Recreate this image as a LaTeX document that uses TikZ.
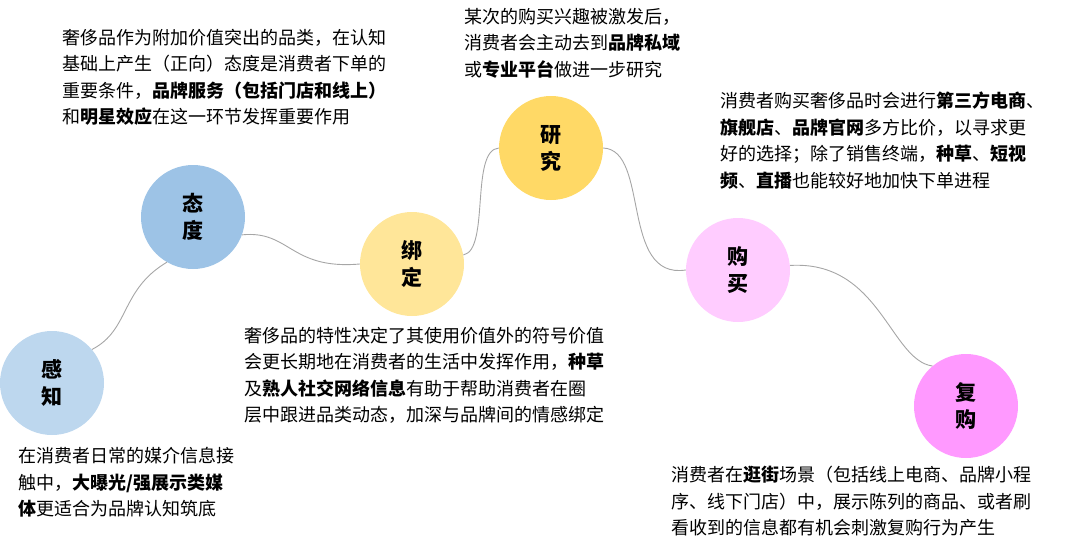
\documentclass[tikz,border=0pt]{standalone}
\usepackage{fontspec}
\setmainfont{Noto Sans CJK SC}
\usetikzlibrary{calc}
\definecolor{bleuclair}{HTML}{BDD7EE}
\definecolor{bleu}{HTML}{9DC3E6}
\definecolor{jauneclair}{HTML}{FFE699}
\definecolor{jaune}{HTML}{FFD966}
\definecolor{roseclair}{HTML}{FFCCFF}
\definecolor{rose}{HTML}{FF99FF}
\tikzstyle{etape}=[circle, minimum size=104pt, inner sep=0pt, align=center, font=\fontsize{21}{27}\selectfont\bfseries]
\tikzstyle{texte}=[anchor=north west, align=left, inner sep=0pt, font=\fontsize{18}{26.5}\selectfont]
\tikzstyle{lien}=[draw=gray!70, line width=0.9pt]

\begin{document}
\begin{tikzpicture}[x=1pt,y=-1pt]
\useasboundingbox (0,0) rectangle (1080,552);

%%%%%%%%%%%%%%%%%%%%%%%%
%les étapes
%%%%%%%%%%%%%%%%%%%%%%%%
\node[etape,fill=bleuclair] (ganzhi) at (52,383) {感\\知};
\node[etape,fill=bleu] (taidu) at (193,217) {态\\度};
\node[etape,fill=jauneclair] (bangding) at (412,264) {绑\\定};
\node[etape,fill=jaune] (yanjiu) at (551,148) {研\\究};
\node[etape,fill=roseclair] (goumai) at (738,270) {购\\买};
\node[etape,fill=rose] (fugou) at (966,406) {复\\购};

%%%%%%%%%%%%%%%%%%%%%%%%
%les liens
%%%%%%%%%%%%%%%%%%%%%%%%
\draw[lien] (ganzhi.40) .. controls (130,330) and (120,290) .. (taidu.-120);
\draw[lien] (taidu.-20) .. controls (290,230) and (290,270) .. (bangding.180);
\draw[lien] (bangding.10) .. controls (490,250) and (470,150) .. (yanjiu.180);
\draw[lien] (yanjiu.0) .. controls (650,150) and (620,280) .. (goumai.180);
\draw[lien] (goumai.5) .. controls (880,260) and (890,360) .. (fugou.130);

%%%%%%%%%%%%%%%%%%%%%%%%
%les textes
%%%%%%%%%%%%%%%%%%%%%%%%
\node[texte] (t1) at (62,29) {奢侈品作为附加价值突出的品类，在认知\\基础上产生（正向）态度是消费者下单的\\重要条件，\textbf{品牌服务（包括门店和线上）}\\和\textbf{明星效应}在这一环节发挥重要作用};
\node[texte] (t2) at (464,8) {某次的购买兴趣被激发后，\\消费者会主动去到\textbf{品牌私域}\\或\textbf{专业平台}做进一步研究};
\node[texte] (t3) at (720,92) {消费者购买奢侈品时会进行\textbf{第三方电商}、\\\textbf{旗舰店}、\textbf{品牌官网}多方比价，以寻求更\\好的选择；除了销售终端，\textbf{种草}、\textbf{短视}\\\textbf{频}、\textbf{直播}也能较好地加快下单进程};
\node[texte] (t4) at (244,327) {奢侈品的特性决定了其使用价值外的符号价值\\会更长期地在消费者的生活中发挥作用，\textbf{种草}\\及\textbf{熟人社交网络信息}有助于帮助消费者在圈\\层中跟进品类动态，加深与品牌间的情感绑定};
\node[texte] (t5) at (18,447) {在消费者日常的媒介信息接\\触中，\textbf{大曝光/强展示类媒}\\\textbf{体}更适合为品牌认知筑底};
\node[texte] (t6) at (671,466) {消费者在\textbf{逛街}场景（包括线上电商、品牌小程\\序、线下门店）中，展示陈列的商品、或者刷\\看收到的信息都有机会刺激复购行为产生};
\end{tikzpicture}
\end{document}
